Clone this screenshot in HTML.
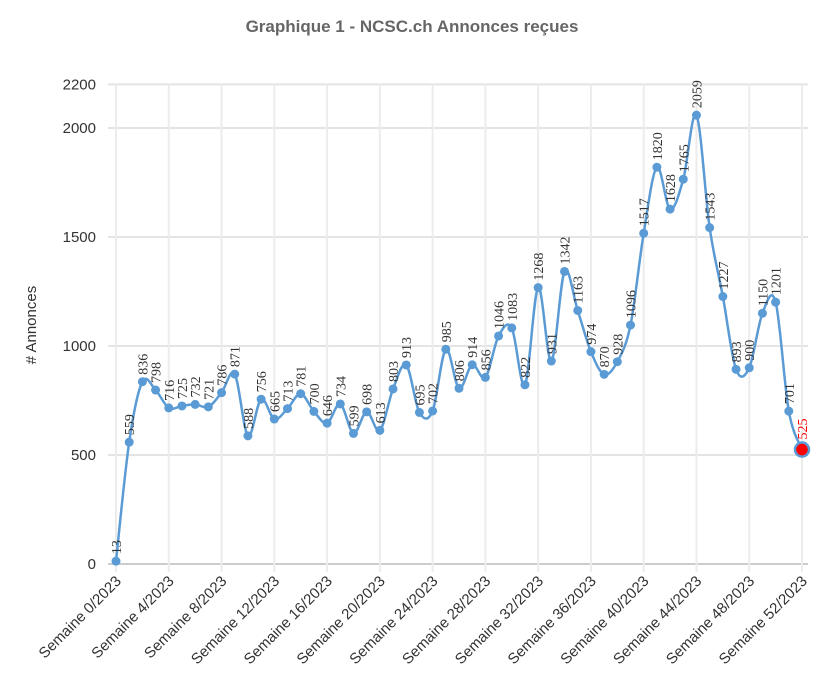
<!DOCTYPE html>
<html><head><meta charset="utf-8"><style>
body{margin:0;background:#fff;}
svg{display:block;font-family:"Liberation Sans",sans-serif;}
</style></head><body>
<svg id="chart" width="832" height="694">
<text x="412" y="32" text-anchor="middle" font-size="17" font-weight="bold" fill="#666">Graphique 1 - NCSC.ch Annonces reçues</text>
<text transform="translate(36,325) rotate(-90)" text-anchor="middle" font-size="15" fill="#333"># Annonces</text>
<g id="grid"></g><g id="axes"></g><g id="series"></g><g id="labels"></g>
</svg>
<script>
const weeks = [0,1,2,3,4,5,6,7,8,9,10,11,12,13,14,15,16,17,18,19,20,21,22,23,24,25,26,27,28,29,30,31,32,33,34,35,36,37,38,39,40,41,42,43,44,45,46,47,48,49,50,51,52];
const values = [13,559,836,798,716,725,732,721,786,871,588,756,665,713,781,700,646,734,599,698,613,803,913,695,702,985,806,914,856,1046,1083,822,1268,931,1342,1163,974,870,928,1096,1517,1820,1628,1765,2059,1543,1227,893,900,1150,1201,701,525];
const yTicks = [0,500,1000,1500,2000,2200];
const xTickWeeks = [0,4,8,12,16,20,24,28,32,36,40,44,48,52];
const NS="http://www.w3.org/2000/svg";
const X0=116,X1=802,Y0=564,Y2000=128;
const x=w=>X0+(w-0)*(X1-X0)/52;
const y=v=>Y0-v*(Y0-Y2000)/2000;
function mk(t,a,p){const e=document.createElementNS(NS,t);for(const k in a)e.setAttribute(k,a[k]);p.appendChild(e);return e;}
const grid=document.getElementById('grid'),axes=document.getElementById('axes'),ser=document.getElementById('series'),lab=document.getElementById('labels');
yTicks.forEach(t=>{
 const l=mk('line',{x1:108,x2:808,y1:y(t),y2:y(t),stroke:t===0?'#ccc':'#e4e4e4','stroke-width':2},grid);
 
 
 const tx=mk('text',{x:96,y:y(t)+5,'text-anchor':'end','font-size':15,fill:'#333'},axes);
 tx.textContent=t;
 
 
});
xTickWeeks.forEach(w=>{
 const l=mk('line',{x1:x(w),x2:x(w),y1:84,y2:572,stroke:'#ececec','stroke-width':2},grid);
 
 
 const tx=mk('text',{transform:`translate(${x(w)+6},${582}) rotate(-45)`,'text-anchor':'end','font-size':15,fill:'#333'},axes);
 tx.textContent='Semaine '+w+'/2023';
 
 
});
const pts=weeks.map((w,i)=>[x(w),y(values[i])]);
let d=`M${pts[0][0]},${pts[0][1]}`;
const tension=0.5;
for(let i=0;i<pts.length-1;i++){
 const p0=pts[Math.max(0,i-1)],p1=pts[i],p2=pts[i+1],p3=pts[Math.min(pts.length-1,i+2)];
 const c1=[p1[0]+(p2[0]-p0[0])/6*tension*2,p1[1]+(p2[1]-p0[1])/6*tension*2];
 const c2=[p2[0]-(p3[0]-p1[0])/6*tension*2,p2[1]-(p3[1]-p1[1])/6*tension*2];
 d+=` C${c1[0]},${c1[1]} ${c2[0]},${c2[1]} ${p2[0]},${p2[1]}`;
}
const line=mk('path',{d:d,fill:'none',stroke:'#5b9bd5','stroke-width':2.5},ser);


pts.forEach((p,i)=>{
 const last=i===pts.length-1;
 const c=mk('circle',{cx:p[0],cy:p[1],r:last?7:4.5,fill:last?'#f00':'#5b9bd5',stroke:last?'#5b9bd5':'none','stroke-width':last?2.5:0},ser);
 
 
 const t=mk('text',{transform:`translate(${p[0]+5},${p[1]-(last?10:7)}) rotate(-90)`,'font-size':14,'font-family':'"Liberation Serif",serif',fill:last?'#f00':'#333'},lab);
 t.textContent=values[i];
 
 
});
</script>
</body></html>
